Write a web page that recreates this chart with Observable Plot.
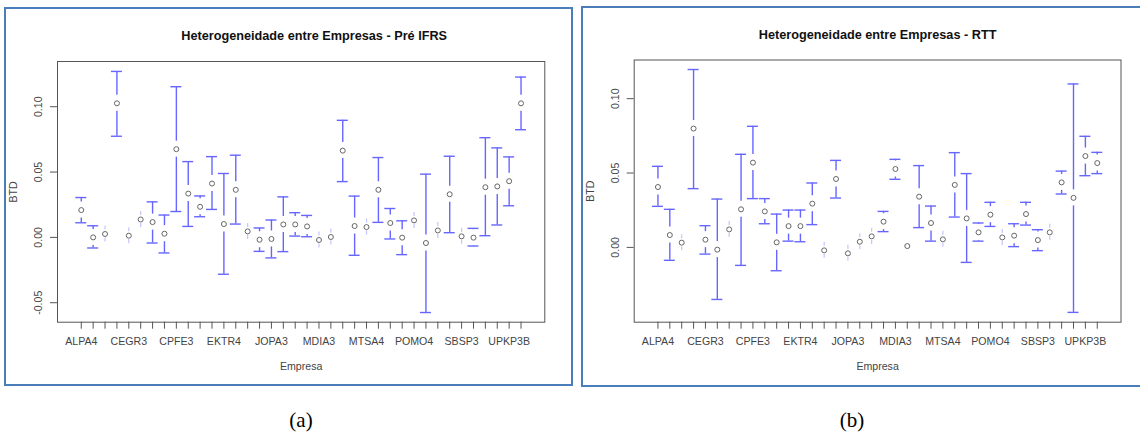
<!DOCTYPE html>
<html>
<head>
<meta charset="utf-8">
<script src="https://cdn.jsdelivr.net/npm/d3@7"></script>
<script src="https://cdn.jsdelivr.net/npm/@observablehq/plot@0.6"></script>
<style>
  html, body { margin: 0; padding: 0; background: #fff; }
  body { width: 1140px; height: 435px; position: relative; overflow: hidden; font-family: "Liberation Sans", Arial, sans-serif; }
  .borda { position: absolute; border: 2px solid #4a7ebb; box-sizing: border-box; }
  .painel { position: absolute; top: 0; }
  .legenda { position: absolute; font-family: "Liberation Serif", "Times New Roman", serif; font-size: 21px; color: #000; transform: translateX(-50%); }
</style>
</head>
<body>
<div class="borda" style="left:4px;top:7px;width:569px;height:379px;"></div>
<div class="borda" style="left:581px;top:6px;width:570px;height:381px;"></div>
<div class="painel" id="pa" style="left:0px;"></div>
<div class="painel" id="pb" style="left:578px;"></div>
<div class="legenda" style="left:301px;top:408px;">(a)</div>
<div class="legenda" style="left:852px;top:408px;">(b)</div>
<script>
// Posições das 38 empresas no eixo (apenas algumas têm rótulo visível)
const posicoes = [1,2,3,4,5,6,7,8,9,10,11,12,13,14,15,16,17,18,19,20,21,22,23,24,25,26,27,28,29,30,31,32,33,34,35,36,37,38];
const rotulosPos = [1,5,9,13,17,21,25,29,33,37];
const rotulos = ["ALPA4","CEGR3","CPFE3","EKTR4","JOPA3","MDIA3","MTSA4","POMO4","SBSP3","UPKP3B"];

// Painel (a): Pré IFRS
const tituloA = "Heterogeneidade entre Empresas - Pré IFRS";
const mediaA = [0.0209, 0.0000, 0.0026, 0.1026, 0.0013, 0.0137, 0.0117, 0.0028, 0.0675, 0.0335,
                0.0234, 0.0412, 0.0102, 0.0364, 0.0046, -0.0018, -0.0012, 0.0099, 0.0099, 0.0084,
                -0.0020, 0.0003, 0.0664, 0.0087, 0.0079, 0.0364, 0.0110, -0.0002, 0.0130, -0.0043,
                0.0053, 0.0330, 0.0008, -0.0002, 0.0384, 0.0390, 0.0430, 0.1026];
const supA = [0.0305, 0.0089, 0.0056, 0.1270, 0.0043, 0.0167, 0.0272, 0.0171, 0.1153, 0.0580,
              0.0317, 0.0618, 0.0489, 0.0629, 0.0076, 0.0072, 0.0133, 0.0310, 0.0189, 0.0168,
              0.0010, 0.0033, 0.0896, 0.0316, 0.0109, 0.0611, 0.0221, 0.0127, 0.0160, 0.0484,
              0.0083, 0.0621, 0.0038, 0.0069, 0.0763, 0.0685, 0.0616, 0.1227];
const infA = [0.0112, -0.0081, -0.0004, 0.0774, -0.0017, 0.0107, -0.0043, -0.0119, 0.0198, 0.0084,
              0.0158, 0.0214, -0.0282, 0.0102, 0.0016, -0.0107, -0.0157, -0.0109, 0.0010, 0.0005,
              -0.0050, -0.0027, 0.0427, -0.0137, 0.0049, 0.0115, -0.0012, -0.0132, 0.0100, -0.0575,
              0.0023, 0.0036, -0.0022, -0.0066, 0.0013, 0.0095, 0.0242, 0.0824];
const yTicksA = [-0.05, 0.00, 0.05, 0.10];

// Painel (b): RTT
const tituloB = "Heterogeneidade entre Empresas - RTT";
const mediaB = [0.0406, 0.0083, 0.0032, 0.0799, 0.0052, -0.0015, 0.0121, 0.0256, 0.0570, 0.0242,
                0.0034, 0.0143, 0.0143, 0.0294, -0.0020, 0.0460, -0.0040, 0.0038, 0.0074, 0.0173,
                0.0527, 0.0009, 0.0341, 0.0164, 0.0054, 0.0420, 0.0195, 0.0101, 0.0220, 0.0067,
                0.0079, 0.0224, 0.0049, 0.0101, 0.0437, 0.0333, 0.0614, 0.0567];
const supB = [0.0545, 0.0256, 0.0059, 0.1196, 0.0146, 0.0325, 0.0148, 0.0626, 0.0814, 0.0328,
              0.0224, 0.0251, 0.0251, 0.0433, 0.0007, 0.0585, -0.0013, 0.0065, 0.0101, 0.0242,
              0.0592, 0.0009, 0.0550, 0.0278, 0.0081, 0.0637, 0.0496, 0.0164, 0.0303, 0.0094,
              0.0159, 0.0303, 0.0119, 0.0128, 0.0513, 0.1099, 0.0747, 0.0639];
const infB = [0.0276, -0.0087, 0.0005, 0.0395, -0.0045, -0.0350, 0.0094, -0.0121, 0.0328, 0.0159,
              -0.0157, 0.0042, 0.0038, 0.0153, -0.0047, 0.0332, -0.0067, 0.0011, 0.0047, 0.0106,
              0.0458, 0.0009, 0.0133, 0.0042, 0.0027, 0.0204, -0.0101, 0.0042, 0.0141, 0.0040,
              0.0005, 0.0150, -0.0022, 0.0074, 0.0359, -0.0437, 0.0482, 0.0496];
const yTicksB = [0.00, 0.05, 0.10];

const rotuloX = "Empresa";
const rotuloY = "BTD";

function painel(cfg) {
  const {titulo, media, sup, inf, yTicks, dominio, width, height, ml, mr, mt, mb, dxTitulo} = cfg;
  const innerH = height - mt - mb;
  const innerW = width - ml - mr;
  const k = (dominio[1] - dominio[0]) / innerH;   // dados por pixel
  const gap = 8 * k;
  const xDom = [-1, 40];
  const capHalf = 5.5 * (xDom[1] - xDom[0]) / innerW;

  const linhas = posicoes.map((p, i) => ({x: p, m: media[i], lo: inf[i], hi: sup[i]}));
  const segs = [];
  const caps = [];
  for (const d of linhas) {
    if (d.hi > d.m) {
      const fraco = (d.hi - d.m) < gap;
      segs.push({x: d.x, y1: d.m + gap, y2: d.hi, fraco});
      if (!fraco) caps.push({x: d.x, y: d.hi});
    }
    if (d.lo < d.m) {
      const fraco = (d.m - d.lo) < gap;
      segs.push({x: d.x, y1: d.m - gap, y2: d.lo, fraco});
      if (!fraco) caps.push({x: d.x, y: d.lo});
    }
  }
  const azul = "#6666ff";
  const azulFraco = "#c4c4ff";

  return Plot.plot({
    width, height,
    marginLeft: ml, marginRight: mr, marginTop: mt, marginBottom: mb,
    style: {background: "transparent", fontFamily: "'Liberation Sans', Arial, sans-serif", fontSize: "10.6px", color: "#444", overflow: "visible"},
    x: {type: "linear", domain: xDom},
    y: {domain: dominio},
    marks: [
      Plot.ruleX(segs.filter(d => !d.fraco), {x: "x", y1: "y1", y2: "y2", stroke: azul, strokeWidth: 1.4}),
      Plot.ruleX(segs.filter(d => d.fraco), {x: "x", y1: "y1", y2: "y2", stroke: azulFraco, strokeWidth: 1.2}),
      Plot.ruleY(caps, {y: "y", x1: d => d.x - capHalf, x2: d => d.x + capHalf, stroke: azul, strokeWidth: 1.4}),
      Plot.dot(linhas, {x: "x", y: "m", r: 2.5, stroke: "#666", strokeWidth: 1, fill: "none"}),
      Plot.frame({stroke: "#555", strokeWidth: 1}),
      Plot.axisX({ticks: posicoes, tickSize: 7, tickPadding: 8, stroke: "#555",
        tickFormat: p => { const j = rotulosPos.indexOf(p); return j >= 0 ? rotulos[j] : ""; },
        label: null, fontSize: 10.6}),
      Plot.axisY({ticks: yTicks, tickSize: 7, tickFormat: () => "", label: null, stroke: "#555"}),
      Plot.text(yTicks, {y: d => d, text: d => d.toFixed(2), frameAnchor: "left", dx: -19, rotate: -90,
        textAnchor: "middle", lineAnchor: "middle", fontSize: 10.6, fill: "#444"}),
      Plot.text([titulo], {frameAnchor: "top", dx: dxTitulo, dy: cfg.dyTitulo, text: d => d, fontWeight: "bold",
        fontSize: 12.7, fill: "#111", lineAnchor: "middle"}),
      Plot.text([rotuloX], {frameAnchor: "bottom", dy: 44.7, text: d => d, fontSize: 10.6, fill: "#444", lineAnchor: "middle"}),
      Plot.text([rotuloY], {frameAnchor: "left", dx: cfg.dxY, text: d => d, rotate: -90, fontSize: 10.6,
        fill: "#444", lineAnchor: "middle", textAnchor: "middle"})
    ]
  });
}

document.getElementById("pa").appendChild(painel({
  titulo: tituloA, media: mediaA, sup: supA, inf: infA, yTicks: yTicksA,
  dominio: [-0.0649, 0.1346], width: 575, height: 390, ml: 57, mr: 30.7, mt: 61, mb: 68.3,
  dxTitulo: 13, dyTitulo: -25.6, dxY: -44.2
}));
document.getElementById("pb").appendChild(painel({
  titulo: tituloB, media: mediaB, sup: supB, inf: infB, yTicks: yTicksB,
  dominio: [-0.0503, 0.1260], width: 562, height: 390, ml: 55.7, mr: 19.5, mt: 59.5, mb: 68.3,
  dxTitulo: 0, dyTitulo: -25.1, dxY: -43.2
}));
</script>
</body>
</html>
